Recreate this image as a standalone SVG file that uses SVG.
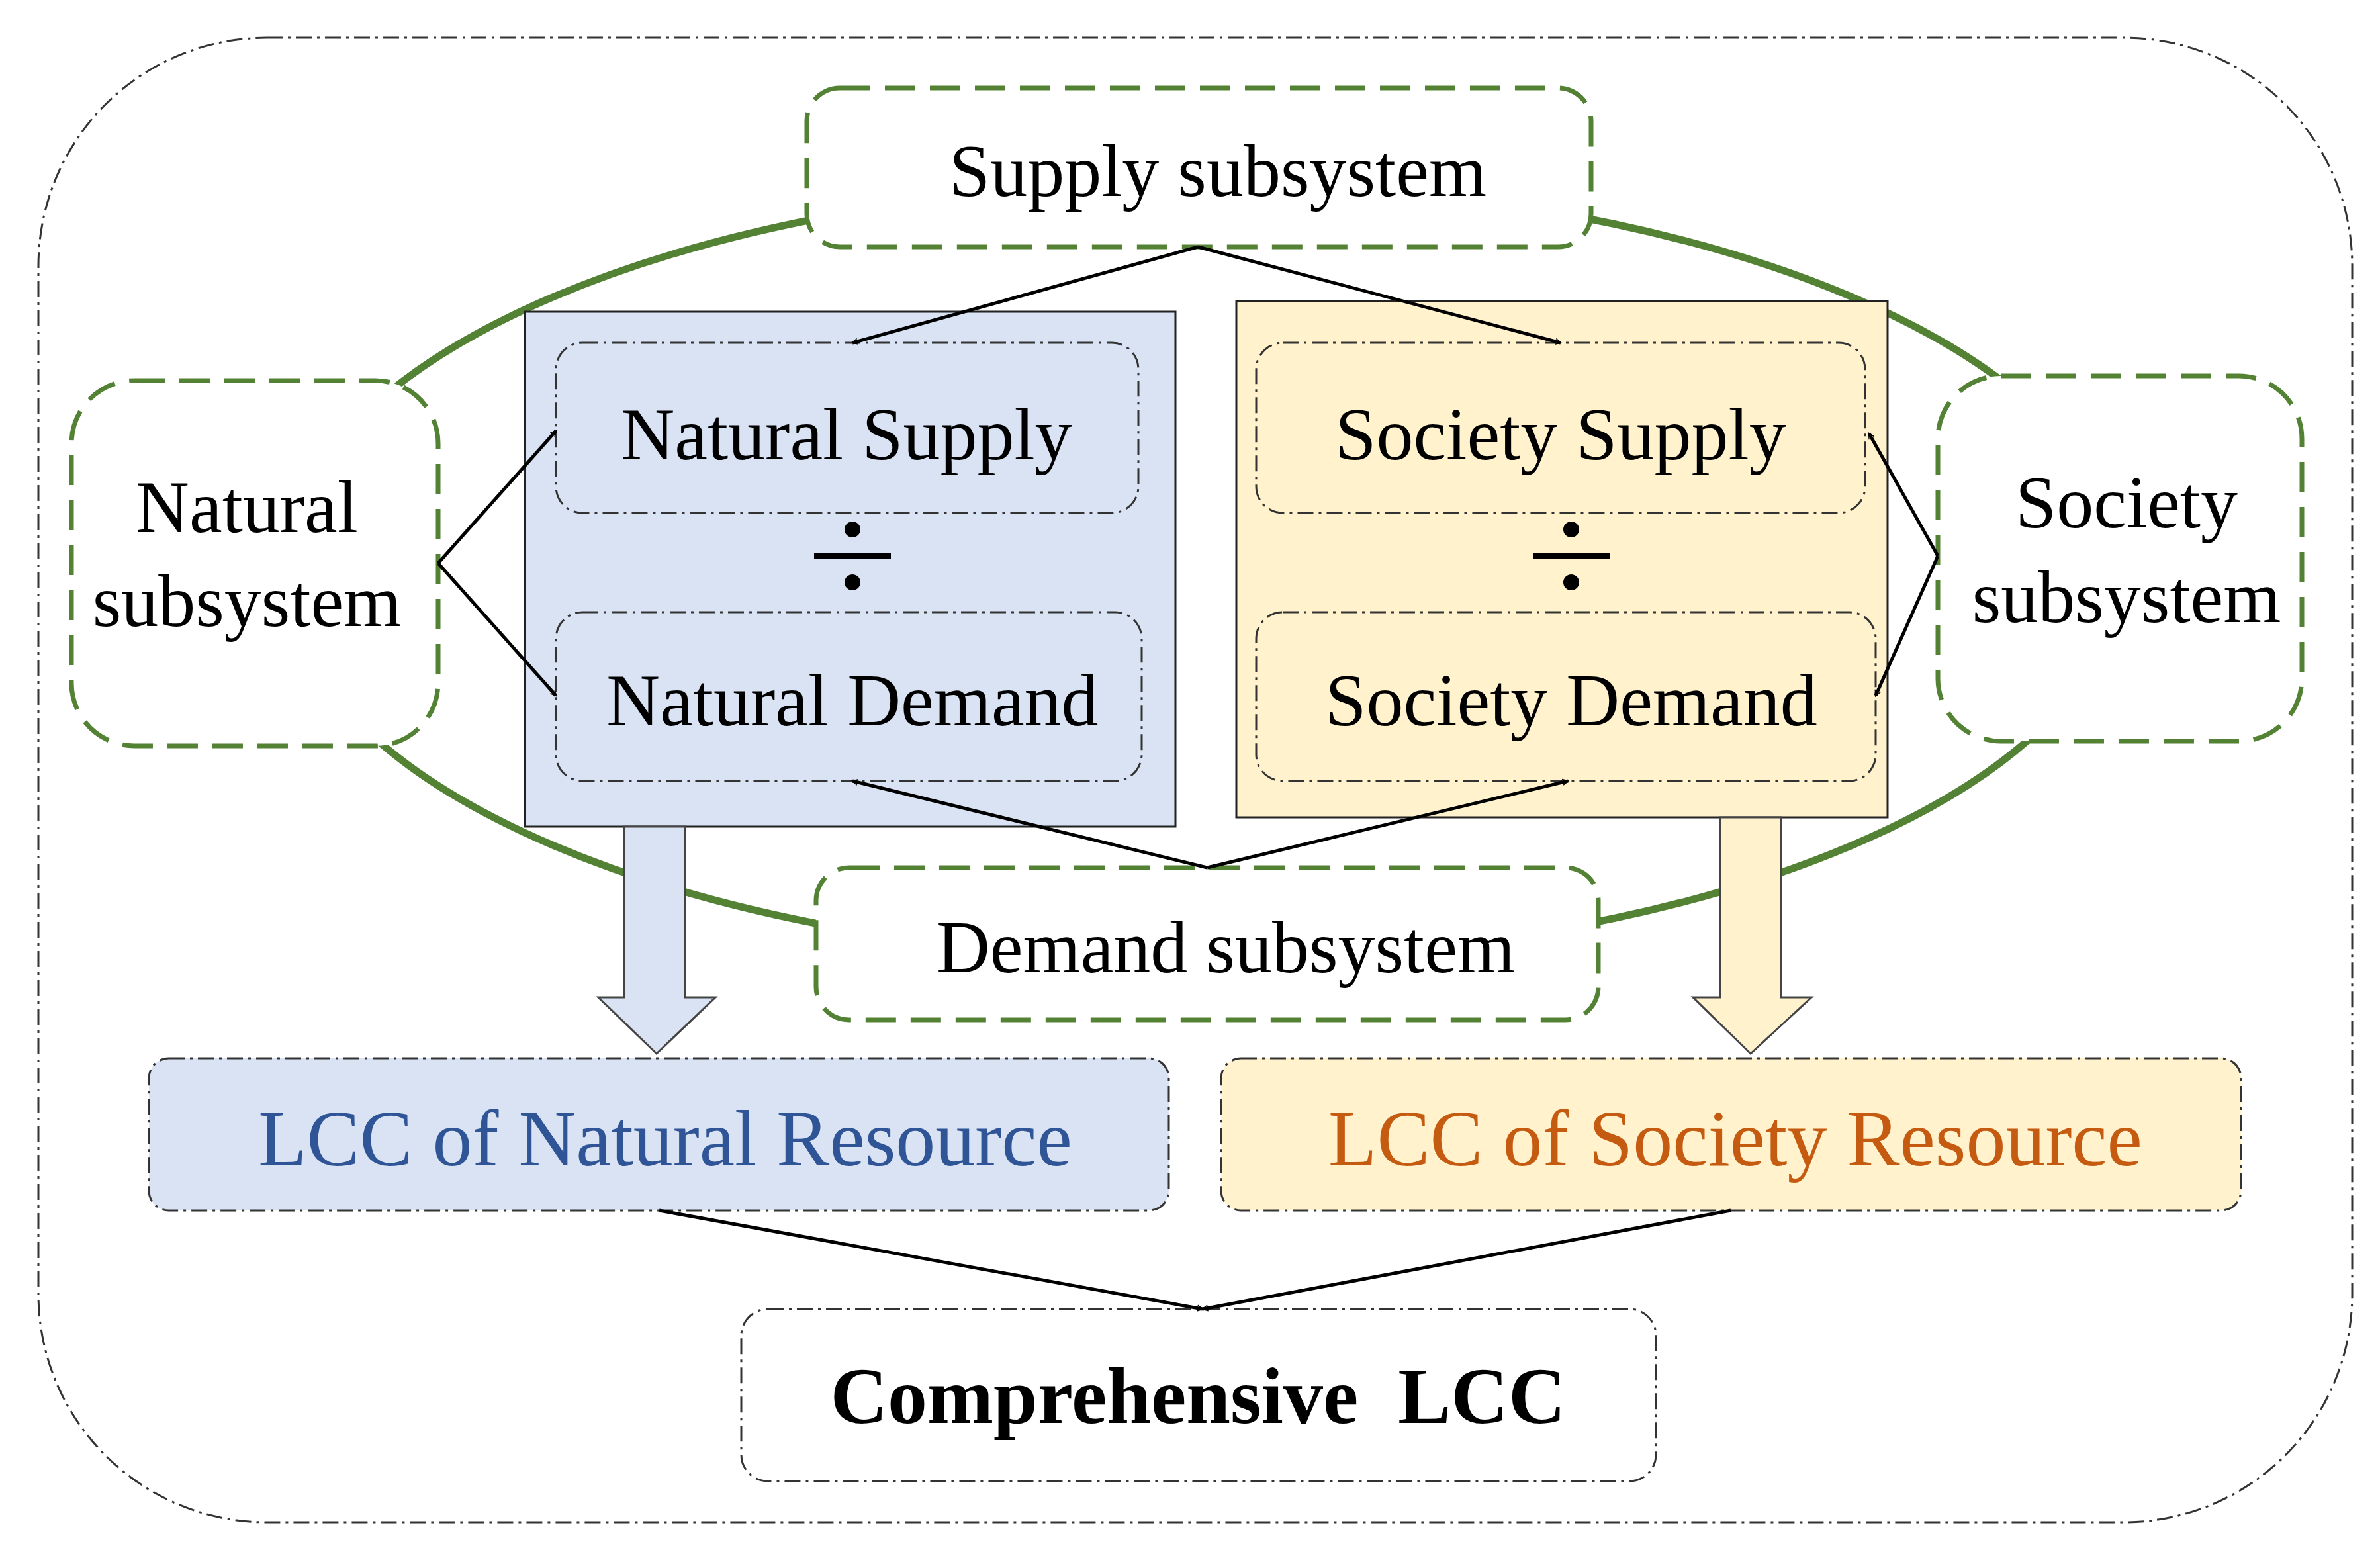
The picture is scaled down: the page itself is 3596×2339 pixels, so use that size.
<svg xmlns="http://www.w3.org/2000/svg" width="3596" height="2339" viewBox="0 0 3596 2339">
<style>
text{font-family:"Liberation Serif","Times New Roman",serif;text-anchor:middle;dominant-baseline:central;fill:#000}
.t{font-size:112px}
.big{font-size:120px}
.g{fill:#fff;stroke:#548235;stroke-width:7;stroke-dasharray:46 22}
.dd{stroke:#333;stroke-width:3;stroke-dasharray:24 8 4 8}
.c{stroke:#000;stroke-width:5;fill:none;marker-end:url(#ah)}
</style>
<defs>
<marker id="ah" viewBox="0 0 20 20" refX="18" refY="10" markerWidth="9" markerHeight="9" orient="auto" markerUnits="userSpaceOnUse" style="overflow:visible">
<path d="M0,0 L20,10 L0,20" fill="none" stroke="#000" stroke-width="3"/>
</marker>
</defs>
<rect width="3596" height="2339" fill="#fff"/>
<rect x="58" y="57" width="3496" height="2243" rx="345" fill="none" class="dd"/>
<ellipse cx="1817" cy="863" rx="1385" ry="587" fill="none" stroke="#548235" stroke-width="11"/>
<g id="natural-block"><rect x="793" y="471" width="983" height="778" fill="#dae3f3" stroke="#222" stroke-width="3"/></g>
<g id="society-block"><rect x="1868" y="455" width="984" height="780" fill="#fff2cc" stroke="#222" stroke-width="3"/></g>
<g id="supply"><rect x="1219" y="133" width="1185" height="240" rx="50" class="g"/><text class="t" x="1840" y="258">Supply subsystem</text></g>
<g id="natural-subsystem"><rect x="108" y="575" width="554" height="552" rx="95" class="g"/><text class="t" x="373" y="766">Natural</text><text class="t" x="373" y="908">subsystem</text></g>
<g id="society-subsystem"><rect x="2928" y="568" width="550" height="552" rx="95" class="g"/><text class="t" x="3213" y="759">Society</text><text class="t" x="3213" y="902">subsystem</text></g>
<g id="demand"><rect x="1233" y="1311" width="1182" height="230" rx="50" class="g"/><text class="t" x="1852" y="1431">Demand subsystem</text></g>
<g id="natural-supply"><rect x="840" y="518" width="880" height="257" rx="40" fill="#dae3f3" class="dd"/><text class="t" x="1279" y="656">Natural Supply</text></g>
<g id="natural-demand"><rect x="840" y="925" width="885" height="255" rx="40" fill="#dae3f3" class="dd"/><text class="t" x="1288" y="1058">Natural Demand</text></g>
<g id="society-supply"><rect x="1898" y="518" width="920" height="257" rx="40" fill="#fff2cc" class="dd"/><text class="t" x="2358" y="656">Society Supply</text></g>
<g id="society-demand"><rect x="1898" y="925" width="936" height="255" rx="40" fill="#fff2cc" class="dd"/><text class="t" x="2374" y="1058">Society Demand</text></g>
<g id="div1"><line x1="1230" y1="840" x2="1346" y2="840" stroke="#000" stroke-width="9"/><circle cx="1288" cy="800" r="12"/><circle cx="1288" cy="880" r="12"/></g>
<g id="div2"><line x1="2316" y1="840" x2="2432" y2="840" stroke="#000" stroke-width="9"/><circle cx="2374" cy="800" r="12"/><circle cx="2374" cy="880" r="12"/></g>
<g id="block-arrows">
<path d="M943,1249 H1035 V1507 H1081 L992,1592 L904,1507 H943 Z" fill="#dae3f3" stroke="#444" stroke-width="3"/>
<path d="M2599,1235 H2691 V1507 H2737 L2645,1592 L2558,1507 H2599 Z" fill="#fff2cc" stroke="#444" stroke-width="3"/>
</g>
<g id="lcc-natural"><rect x="225" y="1599" width="1541" height="230" rx="30" fill="#dae3f3" class="dd"/><text class="big" x="1005" y="1720" style="fill:#2f5597">LCC of Natural Resource</text></g>
<g id="lcc-society"><rect x="1845" y="1599" width="1541" height="230" rx="30" fill="#fff2cc" class="dd"/><text class="big" x="2622" y="1720" style="fill:#c55a11">LCC of Society Resource</text></g>
<g id="comprehensive"><rect x="1120" y="1978" width="1382" height="260" rx="40" fill="#fff" class="dd"/><text class="big" x="1810" y="2109" font-weight="bold" xml:space="preserve">Comprehensive  LCC</text></g>
<g id="connectors">
<line class="c" x1="1810" y1="373" x2="1288" y2="518"/>
<line class="c" x1="1810" y1="373" x2="2358" y2="518"/>
<line class="c" x1="1824" y1="1311" x2="1288" y2="1180"/>
<line class="c" x1="1824" y1="1311" x2="2369" y2="1180"/>
<line class="c" x1="662" y1="851" x2="840" y2="651"/>
<line class="c" x1="662" y1="851" x2="840" y2="1051"/>
<line class="c" x1="2928" y1="840" x2="2824" y2="655"/>
<line class="c" x1="2928" y1="840" x2="2834" y2="1051"/>
<line class="c" x1="996" y1="1829" x2="1817" y2="1978"/>
<line class="c" x1="2615" y1="1829" x2="1817" y2="1978"/>
</g>
</svg>
